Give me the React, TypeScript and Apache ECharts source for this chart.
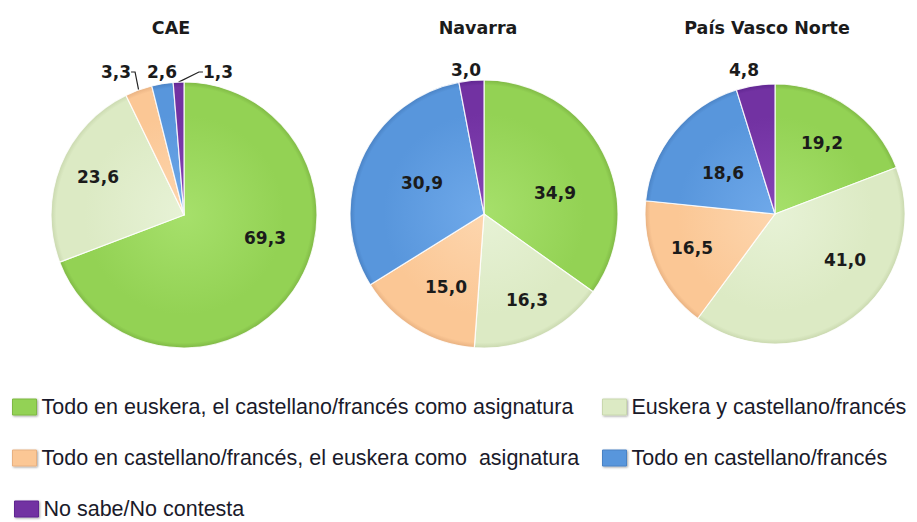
import { useEffect, useRef } from 'react';
import * as echarts from 'echarts';

// ---- data ----
const categories = [
  'Todo en euskera, el castellano/francés como asignatura',
  'Euskera y castellano/francés',
  'Todo en castellano/francés, el euskera como  asignatura',
  'Todo en castellano/francés',
  'No sabe/No contesta',
];
const regions = ['CAE', 'Navarra', 'País Vasco Norte'];
const caeValues = [69.3, 23.6, 3.3, 2.6, 1.3];
const navarraValues = [34.9, 16.3, 15.0, 30.9, 3.0];
const pvnValues = [19.2, 41.0, 16.5, 18.6, 4.8];
const regionValues = [caeValues, navarraValues, pvnValues];

// ---- layout / style ----
const W = 917;
const H = 522;
const centers = [[184, 215], [484, 214], [775, 214]];
const radii = [133, 134, 130];
const titleX = [166, 473, 762];
const baseColors = ['#93D254', '#DCEAC4', '#FBC795', '#5896DC', '#7232A2'];
const lightColors = ['#A6E06B', '#E7F2D6', '#FDD6AE', '#6FA9EA', '#8645B6'];
const darkColors = ['#7FB845', '#C9D8AE', '#E8B181', '#4A82C4', '#5F2590'];
// label offsets from pie centre (Excel-like label placement)
const labelOffsets = [
  [[81, 23], [-86, -38], [-68, -143], [-22, -143], [34, -143]],
  [[71, -21], [43, 86], [-38, 73], [-62, -31], [-18, -144]],
  [[47, -71], [70, 46], [-83, 34], [-52, -41], [-31, -144]],
];
// which labels sit outside with a leader line
const outsideLabels = [
  [false, false, true, true, true],
  [false, false, false, false, true],
  [false, false, false, false, true],
];
const leaderLines = [
  [false, false, true, false, true],
  [false, false, false, false, false],
  [false, false, false, false, false],
];
const legendPos = [
  { left: 12, top: 396 },
  { left: 602, top: 396 },
  { left: 12, top: 447 },
  { left: 602, top: 447 },
  { left: 14, top: 498 },
];

const fmt = (v: number) => v.toFixed(1).replace('.', ',');

export default function App() {
  const ref = useRef<HTMLDivElement>(null);
  useEffect(() => {
    if (!ref.current) return;
    const chart = echarts.init(ref.current, null, { renderer: 'svg', width: W, height: H });

    const series = regionValues.map((vals, s) => {
      const [cx, cy] = centers[s];
      const r = radii[s];
      return {
        type: 'pie',
        name: regions[s],
        center: [cx, cy],
        radius: [0, r],
        startAngle: 90,
        clockwise: true,
        avoidLabelOverlap: false,
        animation: false,
        label: {
          show: true,
          position: 'inside',
          formatter: (p: any) => fmt(p.value),
          fontFamily: '"DejaVu Sans", sans-serif',
          fontWeight: 'bold',
          fontSize: 17,
          color: '#1b1b1b',
        },
        labelLine: { show: false },
        labelLayout: (p: any) => {
          const off = labelOffsets[s][p.dataIndex];
          return { x: cx + off[0], y: cy + off[1], align: 'center', verticalAlign: 'middle' };
        },
        emphasis: { disabled: true },
        data: vals.map((v, i) => ({
          name: categories[i],
          value: v,
          itemStyle: {
            color: {
              type: 'radial',
              x: cx,
              y: cy,
              r: r,
              global: true,
              colorStops: [
                { offset: 0, color: lightColors[i] },
                { offset: 0.75, color: baseColors[i] },
                { offset: 0.96, color: baseColors[i] },
                { offset: 1, color: darkColors[i] },
              ],
            },
            borderColor: 'rgba(255,255,255,0.85)',
            borderWidth: 1.2,
          },
          label: outsideLabels[s][i] ? { position: 'outside' } : undefined,
          labelLine: leaderLines[s][i]
            ? { show: true, length: 6, length2: 4, lineStyle: { color: '#222', width: 1.2 } }
            : { show: false },
        })),
      };
    });

    const legends = categories.map((c, i) => ({
      show: true,
      orient: 'horizontal',
      left: legendPos[i].left,
      top: legendPos[i].top,
      padding: 0,
      itemWidth: 24,
      itemHeight: 16,
      icon: 'rect',
      selectedMode: false,
      data: [{ name: c, itemStyle: { color: baseColors[i], borderColor: darkColors[i], borderWidth: 1, shadowBlur: 2, shadowColor: 'rgba(0,0,0,0.35)', shadowOffsetX: 1, shadowOffsetY: 1 } }],
      textStyle: {
        fontFamily: '"Liberation Sans", Arial, sans-serif',
        fontSize: 21.5,
        color: '#1a1a2a',
      },
    }));

    chart.setOption({
      animation: false,
      backgroundColor: '#ffffff',
      title: regions.map((t, i) => ({
        text: t,
        left: titleX[i],
        top: 14,
        textAlign: 'center',
        textStyle: {
          fontFamily: '"DejaVu Sans", sans-serif',
          fontWeight: 'bold',
          fontSize: 17.5,
          color: '#1b1b1b',
        },
      })),
      legend: legends,
      series,
    } as any);
    return () => chart.dispose();
  }, []);
  return <div ref={ref} style={{ position: 'absolute', left: 0, top: 0, width: W, height: H }} />;
}
